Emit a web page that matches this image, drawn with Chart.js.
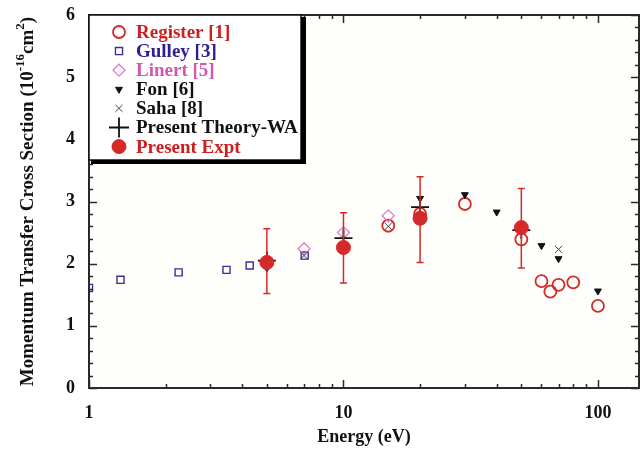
<!DOCTYPE html>
<html>
<head>
<meta charset="utf-8">
<script src="https://cdn.jsdelivr.net/npm/chart.js@4.4.1/dist/chart.umd.min.js"></script>
<style>
  html, body { margin: 0; padding: 0; background: #fff; }
  #wrap { width: 640px; height: 449px; }
</style>
</head>
<body>
<div id="wrap"><canvas id="mtcs"></canvas></div>
<script>
// energies (eV) and momentum transfer cross sections (1e-16 cm^2)
const registerE = [15, 20, 30, 50, 60, 65, 70, 80, 100];
const registerQ = [2.61, 2.80, 2.96, 2.39, 1.72, 1.55, 1.66, 1.70, 1.32];
const gulleyE = [1, 1.33, 2.25, 3.47, 4.28, 7.04];
const gulleyQ = [1.61, 1.74, 1.86, 1.90, 1.97, 2.13];
const linertE = [7, 10, 15];
const linertQ = [2.24, 2.50, 2.77];
const fonE = [5, 20, 30, 40, 50, 60, 70, 100];
const fonQ = [1.93, 3.05, 3.11, 2.83, 2.62, 2.29, 2.08, 1.56];
const sahaE = [7, 15, 70];
const sahaQ = [2.13, 2.60, 2.23];
const theoryE = [5, 10, 20, 50];
const theoryQ = [2.05, 2.41, 2.91, 2.54];
const exptE = [5, 10, 20, 50];
const exptQ = [2.02, 2.26, 2.73, 2.58];
const exptLow = [1.52, 1.69, 2.02, 1.93];
const exptHigh = [2.56, 2.82, 3.40, 3.21];

const xTickLabels = [1, 10, 100];
const yTickLabels = [0, 1, 2, 3, 4, 5, 6];

const serif = '"Liberation Serif", "Times New Roman", serif';
const red = "#d42a2a";

function series(label, xs, ys, opts) {
  return Object.assign({
    label,
    data: xs.map((x, i) => ({ x, y: ys[i] })),
    showLine: false
  }, opts);
}

const datasets = [
  series("Register [1]", registerE, registerQ, {
    pointStyle: "circle", pointRadius: 6, pointBorderWidth: 1.8,
    borderColor: red, backgroundColor: "rgba(0,0,0,0)", textColor: "#cc2020", order: 6
  }),
  series("Gulley [3]", gulleyE, gulleyQ, {
    pointStyle: "rect", pointRadius: 5, pointBorderWidth: 1.4,
    borderColor: "#3b2d9c", backgroundColor: "rgba(0,0,0,0)", textColor: "#2e1f8f", order: 5
  }),
  series("Linert [5]", linertE, linertQ, {
    pointStyle: "rectRot", pointRadius: 6, pointBorderWidth: 1.3,
    borderColor: "#e27ccb", backgroundColor: "rgba(0,0,0,0)", textColor: "#d058b4", order: 4
  }),
  series("Fon [6]", fonE, fonQ, {
    pointStyle: "triangle", pointRadius: 4, pointRotation: 180, pointBorderWidth: 1,
    borderColor: "#111", backgroundColor: "#111", textColor: "#111", order: 3
  }),
  series("Saha [8]", sahaE, sahaQ, {
    pointStyle: "crossRot", pointRadius: 5, pointBorderWidth: 1,
    borderColor: "#444", backgroundColor: "#444", textColor: "#111", order: 2
  }),
  series("Present Theory-WA", theoryE, theoryQ, {
    pointStyle: "cross", pointRadius: 9, pointBorderWidth: 1.8,
    borderColor: "#111", backgroundColor: "#111", textColor: "#111", order: 1
  }),
  series("Present Expt", exptE, exptQ, {
    pointStyle: "circle", pointRadius: 7, pointBorderWidth: 1,
    borderColor: red, backgroundColor: red, textColor: "#cc2020", order: 0
  })
];

// ---- frame, inward ticks, error bars, boxed legend, y title ----
const figurePlugin = {
  id: "figure",
  beforeDraw(chart) {
    const { ctx, chartArea: a } = chart;
    ctx.save();
    ctx.fillStyle = "#fefefa";
    ctx.fillRect(a.left, a.top, a.right - a.left, a.bottom - a.top);
    ctx.restore();
  },
  afterDatasetsDraw(chart) {
    const { ctx, scales } = chart;
    ctx.save();
    ctx.strokeStyle = red;
    ctx.lineWidth = 1.5;
    exptE.forEach((e, i) => {
      const px = scales.x.getPixelForValue(e);
      const lo = scales.y.getPixelForValue(exptLow[i]);
      const hi = scales.y.getPixelForValue(exptHigh[i]);
      ctx.beginPath();
      ctx.moveTo(px, lo); ctx.lineTo(px, hi);
      ctx.moveTo(px - 3.5, lo); ctx.lineTo(px + 3.5, lo);
      ctx.moveTo(px - 3.5, hi); ctx.lineTo(px + 3.5, hi);
      ctx.stroke();
    });
    ctx.restore();
  },
  afterDraw(chart) {
    const { ctx, chartArea: a, scales } = chart;
    ctx.save();
    ctx.strokeStyle = "#2a2a2a";

    // x ticks (bottom + top)
    ctx.lineWidth = 1.5;
    ctx.beginPath();
    scales.x.ticks.forEach(t => {
      const v = t.value;
      const m = v / Math.pow(10, Math.floor(Math.log10(v) + 1e-9));
      if (Math.abs(m - Math.round(m)) > 1e-6) return;
      const len = Math.round(m) === 1 ? 8 : 4;
      const px = Math.round(scales.x.getPixelForValue(v)) + 0.5;
      ctx.moveTo(px, a.bottom); ctx.lineTo(px, a.bottom - len);
      ctx.moveTo(px, a.top); ctx.lineTo(px, a.top + len);
    });
    // y ticks (left + right), minor every 0.2
    for (let k = 0; k <= 30; k++) {
      const v = k / 5;
      const len = k % 5 === 0 ? 8 : 4;
      const py = Math.round(scales.y.getPixelForValue(v)) + 0.5;
      ctx.moveTo(a.left, py); ctx.lineTo(a.left + len, py);
      ctx.moveTo(a.right, py); ctx.lineTo(a.right - len, py);
    }
    ctx.stroke();

    // frame
    ctx.lineWidth = 2;
    ctx.strokeRect(a.left, a.top, a.right - a.left, a.bottom - a.top);

    // legend box with heavy shadow
    const bx = a.left, by = a.top, bw = 212, bh = 145;
    ctx.fillStyle = "#fff";
    ctx.fillRect(bx, by, bw, bh);
    ctx.lineWidth = 1.5;
    ctx.strokeStyle = "#111";
    ctx.strokeRect(bx, by, bw, bh);
    ctx.fillStyle = "#000";
    ctx.fillRect(bx + bw, by + 2, 5, bh + 2);
    ctx.fillRect(bx + 2, by + bh, bw + 2, 4);

    ctx.font = "bold 19px " + serif;
    ctx.textBaseline = "middle";
    ctx.textAlign = "left";
    chart.data.datasets.forEach((d, i) => {
      const cy = by + 17 + i * 19.1;
      ctx.strokeStyle = d.borderColor;
      ctx.fillStyle = d.backgroundColor;
      ctx.lineWidth = d.pointBorderWidth;
      Chart.helpers.drawPoint(ctx, {
        pointStyle: d.pointStyle,
        radius: d.pointStyle === "cross" ? 10 : d.pointRadius,
        rotation: d.pointRotation || 0,
        borderWidth: d.pointBorderWidth
      }, bx + 30, cy);
      ctx.fillStyle = d.textColor;
      ctx.fillText(d.label, bx + 47, cy + 1);
    });

    // y axis title with superscripts
    ctx.translate(28, (a.top + a.bottom) / 2);
    ctx.rotate(-Math.PI / 2);
    ctx.fillStyle = "#111";
    const big = "bold 19px " + serif, small = "bold 13px " + serif;
    const parts = [
      ["Momentum Transfer Cross Section (10", big, 0],
      ["-16", small, -7],
      ["cm", big, 0],
      ["2", small, -7],
      [")", big, 0]
    ];
    let total = 0;
    parts.forEach(p => { ctx.font = p[1]; total += ctx.measureText(p[0]).width; });
    let x = -total / 2;
    parts.forEach(p => {
      ctx.font = p[1];
      ctx.fillText(p[0], x, p[2]);
      x += ctx.measureText(p[0]).width;
    });
    ctx.restore();
  }
};

const tickFont = { family: serif, size: 18, weight: "bold" };

new Chart(document.getElementById("mtcs"), {
  type: "scatter",
  data: { datasets },
  options: {
    responsive: true,
    maintainAspectRatio: false,
    animation: false,
    layout: { autoPadding: false, padding: { top: 15, right: 1, left: 0, bottom: 0 } },
    plugins: { legend: { display: false }, tooltip: { enabled: false } },
    scales: {
      x: {
        type: "logarithmic",
        min: 1,
        max: 145,
        grid: { display: false, drawTicks: false },
        border: { display: false },
        ticks: {
          autoSkip: false,
          maxRotation: 0,
          padding: 15,
          color: "#111",
          font: tickFont,
          callback: v => (xTickLabels.includes(v) ? String(v) : "")
        },
        title: {
          display: true,
          text: "Energy (eV)",
          color: "#111",
          font: tickFont,
          padding: { top: 0, bottom: 1 }
        },
        afterFit: s => {
          s.height = 61;
          s.paddingLeft = 0;
          s.paddingRight = 0;
        }
      },
      y: {
        min: 0,
        max: 6,
        grid: { display: false, drawTicks: false },
        border: { display: false },
        ticks: {
          stepSize: 1,
          padding: 14,
          color: "#111",
          font: tickFont,
          callback: v => (yTickLabels.includes(v) ? String(v) : "")
        },
        afterFit: s => {
          s.width = 89;
          s.paddingTop = 0;
          s.paddingBottom = 0;
        }
      }
    }
  },
  plugins: [figurePlugin]
});
</script>
</body>
</html>
